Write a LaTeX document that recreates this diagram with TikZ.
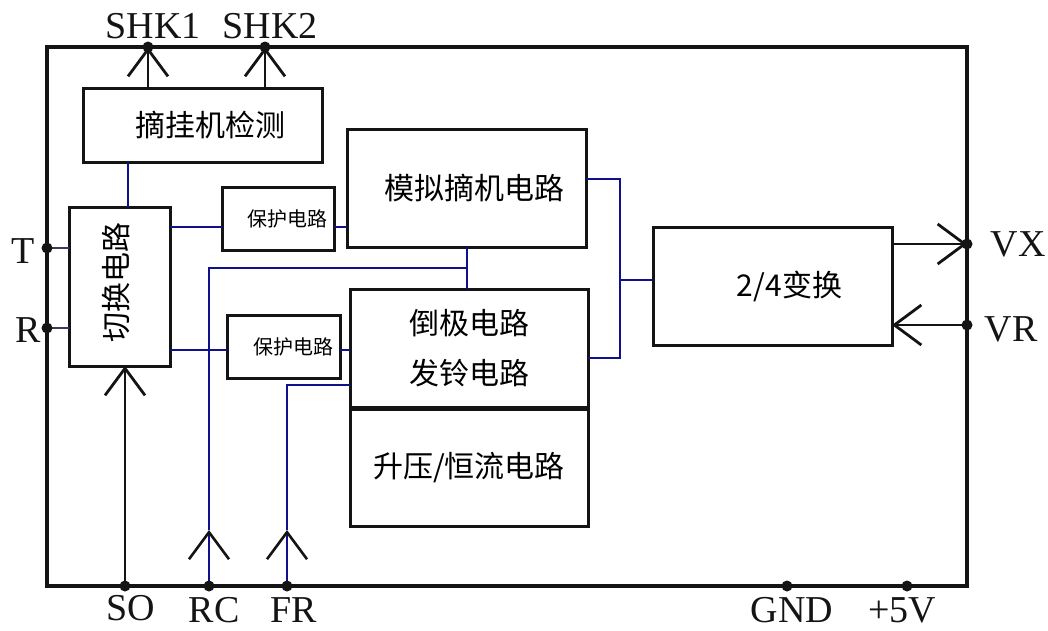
\documentclass[tikz,border=0pt]{standalone}
\usepackage{fontspec}
\setmainfont{Liberation Serif}
\newfontfamily\cjk{Noto Sans CJK SC}
\usepackage{xcolor}
\definecolor{wireBlue}{HTML}{10108C}
\definecolor{wireGray}{HTML}{3C3C5A}
\definecolor{lineBlack}{HTML}{141414}
\usetikzlibrary{arrows.meta}
\tikzset{
  blk/.style={draw=lineBlack, line width=3pt, inner sep=0pt, outer sep=0pt, align=center,
    font=\cjk\fontsize{30}{50}\selectfont},
  smallblk/.style={blk, font=\cjk\fontsize{20}{24}\selectfont},
  pin/.style={circle, fill=lineBlack, inner sep=0pt, minimum size=11pt},
  pinlabel/.style={anchor=base, inner sep=0pt, text=lineBlack, font=\fontsize{38}{40}\selectfont},
  bluewire/.style={wireBlue, line width=2.6pt},
  sigwire/.style={lineBlack, line width=2.8pt},
  barb/.style={-{Straight Barb[length=27pt,width=40pt,color=lineBlack]}},
}

\begin{document}
\begin{tikzpicture}[x=1pt, y=-1pt]
  \useasboundingbox (0,0) rectangle (1048,630);
  \draw[lineBlack, line width=3.2pt] (47,47) rectangle (967,586);
  % pins
  \coordinate (shk1) at (148,47);
  \coordinate (shk2) at (265,47);
  \coordinate (t) at (47,248);
  \coordinate (r) at (47,328);
  \coordinate (so) at (125,586);
  \coordinate (rc) at (209,586);
  \coordinate (fr) at (287,586);
  \coordinate (gnd) at (787,586);
  \coordinate (pv) at (907,586);
  \coordinate (vx) at (967,244);
  \coordinate (vr) at (967,325);
  % blocks
  \node[blk, minimum width=239pt, minimum height=74pt] (det) at (202.5,125) {\hspace*{15pt}摘挂机检测};
  \node[blk, minimum width=101pt, minimum height=159pt] (sw) at (119.5,286.5) {};
  \node[rotate=90, inner sep=0pt, font=\cjk\fontsize{30}{36}\selectfont] (swtext) at (116,282) {切换电路};
  \node[smallblk, minimum width=112pt, minimum height=63pt] (pt1) at (278,218.5) {\hspace*{18pt}保护电路};
  \node[smallblk, minimum width=113pt, minimum height=63pt] (pb) at (283.5,346.5) {\hspace*{20pt}保护电路};
  \node[blk, minimum width=239pt, minimum height=118pt] (sim) at (466.5,188) {\hspace*{15pt}模拟摘机电路};
  \node[blk, minimum width=238pt, minimum height=118pt] (pol) at (469,348) {倒极电路\\发铃电路};
  \node[blk, minimum width=238pt, minimum height=117pt] (boost) at (469,467.5) {升压/恒流电路};
  \node[blk, minimum width=239pt, minimum height=118pt] (conv) at (772.5,286) {\hspace*{34pt}2/4变换};
  % wires
  \draw[bluewire] (det.south -| 128,0) -- (sw.north -| 128,0);
  \draw[wireGray, line width=2.4pt] (t) -- (sw.west |- t);
  \draw[wireGray, line width=2.4pt] (r) -- (sw.west |- r);
  \draw[bluewire] (sw.east |- 0,227) -- (pt1.west |- 0,227);
  \draw[bluewire] (pt1.east |- 0,227) -- (sim.west |- 0,227);
  \draw[bluewire] (sw.east |- 0,350) -- (pb.west |- 0,350);
  \draw[bluewire] (pb.east |- 0,350) -- (pol.west |- 0,350);
  \coordinate (jn) at (467,268);
  \draw[bluewire] (sim.south -| jn) -- (pol.north -| jn);
  \coordinate (rcA) at (209,530);
  \draw[bluewire, barb] (rc) -- (rcA);
  \draw[bluewire] (rcA) |- (jn);
  \coordinate (frA) at (287,530);
  \draw[bluewire, barb] (fr) -- (frA);
  \draw[bluewire] (frA) |- (pol.west |- 0,385);
  \coordinate (bus) at (620,280);
  \draw[bluewire] (sim.east |- 0,179) -| (bus) |- (pol.east |- 0,358);
  \draw[bluewire] (bus) -- (conv.west |- bus);
  \draw[sigwire, barb] (so) -- (sw.south -| so);
  \draw[sigwire, barb] (det.north -| shk1) -- (shk1);
  \draw[sigwire, barb] (det.north -| shk2) -- (shk2);
  \draw[sigwire, barb] (conv.east |- vx) -- (vx);
  \draw[sigwire, barb] (vr) -- (conv.east |- vr);
  % pin dots
  \node[pin] (shk1dot) at (shk1) {};
  \node[pin] (shk2dot) at (shk2) {};
  \node[pin] (tdot) at (t) {};
  \node[pin] (rdot) at (r) {};
  \node[pin] (sodot) at (so) {};
  \node[pin] (rcdot) at (rc) {};
  \node[pin] (frdot) at (fr) {};
  \node[pin] (gnddot) at (gnd) {};
  \node[pin] (pvdot) at (pv) {};
  \node[pin] (vxdot) at (vx) {};
  \node[pin] (vrdot) at (vr) {};
  % pin labels
  \node[pinlabel] (shk1lbl) at (153,38) {SHK1};
  \node[pinlabel] (shk2lbl) at (270,38) {SHK2};
  \node[pinlabel] (tlbl) at (23,263) {T};
  \node[pinlabel] (rlbl) at (28,342) {R};
  \node[pinlabel] (solbl) at (131,620) {SO};
  \node[pinlabel] (rclbl) at (214,622) {RC};
  \node[pinlabel] (frlbl) at (294,622) {FR};
  \node[pinlabel] (gndlbl) at (792,622) {GND};
  \node[pinlabel] (pvlbl) at (902,622) {+5V};
  \node[pinlabel] (vxlbl) at (1018,256) {VX};
  \node[pinlabel] (vrlbl) at (1011,341) {VR};
\end{tikzpicture}
\end{document}
